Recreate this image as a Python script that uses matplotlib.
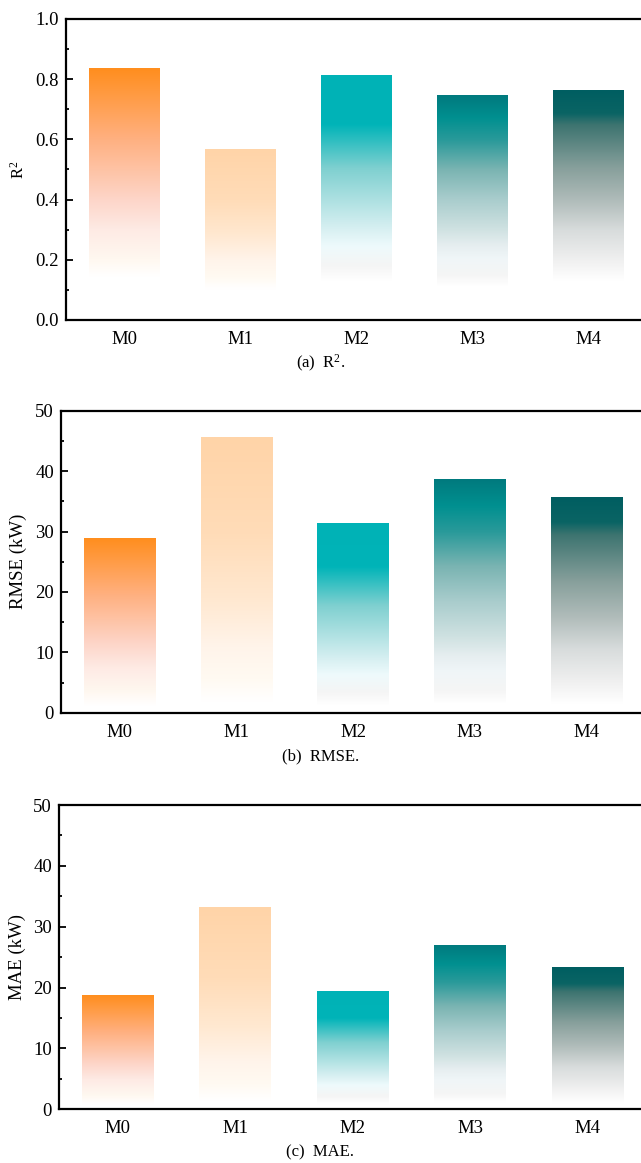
import matplotlib
matplotlib.use("Agg")
import matplotlib.pyplot as plt
import numpy as np
from matplotlib.colors import LinearSegmentedColormap
from matplotlib.ticker import MultipleLocator, FormatStrFormatter

plt.rcParams['font.family'] = ['Liberation Serif', 'DejaVu Serif']
plt.rcParams['mathtext.fontset'] = 'custom'
plt.rcParams['mathtext.rm'] = 'Liberation Serif'
plt.rcParams['mathtext.it'] = 'Liberation Serif:italic'

models = ["M0", "M1", "M2", "M3", "M4"]
r2_values = [0.835, 0.565, 0.811, 0.745, 0.763]
rmse_values = [28.9, 45.6, 31.4, 38.6, 35.7]
mae_values = [18.7, 33.1, 19.3, 26.9, 23.2]

ylabels = [r"R$^{\mathrm{2}}$", "RMSE (kW)", "MAE (kW)"]
captions = [r"(a)  R$^{\mathrm{2}}$.", "(b)  RMSE.", "(c)  MAE."]
ylims = [(0, 1.0), (0, 50), (0, 50)]
major_steps = [0.2, 10, 10]

# gradient stops per bar: (position from bottom 0..1, color); 2nd stop = end of white base
gradients = [
    [(0.0, "#ffffff"), (0.17, "#ffffff"), (0.24, "#fff8f0"), (0.36, "#feeae4"), (0.48, "#fdd5c8"),
     (0.72, "#ffb080"), (1.0, "#ff8e1e")],
    [(0.0, "#ffffff"), (0.18, "#ffffff"), (0.25, "#fffaf2"), (0.35, "#fff4ea"), (0.5, "#ffe8d0"),
     (0.7, "#ffdcb8"), (1.0, "#ffd4a8")],
    [(0.0, "#ffffff"), (0.16, "#ffffff"), (0.22, "#f5f5f5"), (0.3, "#eefafc"), (0.37, "#d8f0f2"),
     (0.62, "#7fd0d0"), (0.8, "#00b4b8"), (1.0, "#00b2b6")],
    [(0.0, "#ffffff"), (0.15, "#ffffff"), (0.2, "#f5f5f5"), (0.27, "#f0f6f8"), (0.33, "#e6eef0"),
     (0.4, "#d0e2e2"), (0.54, "#a8cccc"), (0.67, "#7ab4b2"), (0.8, "#2a9a9a"), (0.9, "#009090"),
     (1.0, "#007a7e")],
    [(0.0, "#ffffff"), (0.17, "#ffffff"), (0.26, "#f0f0f0"), (0.39, "#d8dcdc"), (0.52, "#b0bcba"),
     (0.66, "#88a09c"), (0.85, "#3d7470"), (0.9, "#0a6464"), (1.0, "#005e61")],
]
# white base fraction per panel (None = stops as given)
white_base = [None, 0.04, 0.04]

data = [r2_values, rmse_values, mae_values]


def remap(stops, floor):
    if floor is None:
        return stops
    s0 = stops[1][0]
    out = [(0.0, stops[0][1])]
    for p, c in stops[1:]:
        out.append((floor + (p - s0) * (1 - floor) / (1 - s0), c))
    return out


fig = plt.figure(figsize=(6.41, 11.63), dpi=100)
W, H = 641.0, 1163.0
# axes boxes in pixels: left, top, right, bottom
boxes = [(66, 19, 647, 320), (61, 410.7, 645, 712.7), (59, 805, 646.5, 1109.3)]
cap_y = [363, 756, 1152]
label_x = [28, 27, 26]

x = np.arange(len(models))
bar_w = 0.61
for i, (vals, box) in enumerate(zip(data, boxes)):
    l, t, r, b = box
    ax = fig.add_axes([l / W, 1 - b / H, (r - l) / W, (b - t) / H])
    bars = ax.bar(x, vals, width=bar_w, color="none", edgecolor="none", zorder=1)
    for bar, stops in zip(bars, gradients):
        x0, y0 = bar.get_x(), bar.get_y()
        w, h = bar.get_width(), bar.get_height()
        cmap = LinearSegmentedColormap.from_list("g", remap(stops, white_base[i]))
        grad = np.linspace(0, 1, 256).reshape(-1, 1)
        ax.imshow(grad, cmap=cmap, origin="lower", aspect="auto",
                  extent=[x0, x0 + w, y0, y0 + h], zorder=2, interpolation="bilinear")
    ax.set_xlim(-0.5, len(models) - 0.5)
    ax.set_ylim(*ylims[i])
    ax.set_xticks(x)
    ax.set_xticklabels(models)
    ax.yaxis.set_major_locator(MultipleLocator(major_steps[i]))
    ax.yaxis.set_minor_locator(MultipleLocator(major_steps[i] / 2))
    if i == 0:
        ax.yaxis.set_major_formatter(FormatStrFormatter("%.1f"))
    ax.tick_params(axis="both", which="major", direction="in", length=5, width=1.3,
                   labelsize=13.5, pad=5)
    ax.tick_params(axis="x", which="major", pad=8)
    ax.tick_params(axis="y", which="minor", direction="in", length=2.5, width=1.3)
    ax.tick_params(axis="x", which="minor", bottom=False)
    for s in ax.spines.values():
        s.set_linewidth(1.6)
    ax.set_ylabel(ylabels[i], fontsize=12 if i == 0 else 13.5)
    ax.yaxis.set_label_coords((label_x[i] - l) / (r - l), 0.5)
    fig.text(0.5, 1 - cap_y[i] / H, captions[i], ha="center", va="center", fontsize=12)

fig.savefig("out.png", dpi=100)
